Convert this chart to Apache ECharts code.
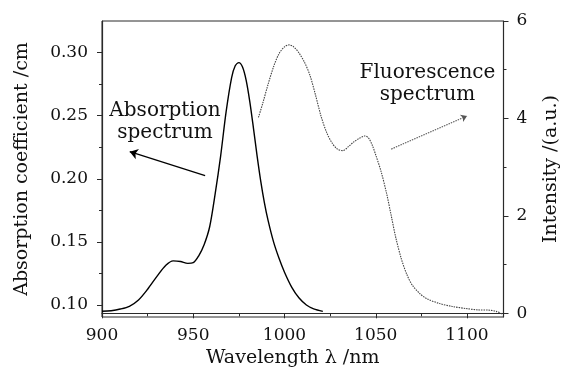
<!DOCTYPE html>
<html>
<head>
<meta charset="utf-8">
<script src="https://cdn.jsdelivr.net/npm/echarts@6/dist/echarts.min.js"></script>
<style>html,body{margin:0;padding:0;background:#fff}#c{width:563px;height:372px}</style>
</head>
<body>
<div id="c"></div>
<script>
// Absorption spectrum: [wavelength nm, absorption coefficient /cm]
var absorption = [[900,0.0950],[905,0.0955],[910,0.0968],[915,0.0990],[920,0.1040],[925,0.1125],[930,0.1225],[935,0.1315],[939,0.1350],[943,0.1345],[947,0.1330],[950,0.1335],[953,0.1390],[956,0.1480],[959,0.1620],[962,0.1880],[965,0.2180],[968,0.2530],[971,0.2800],[973,0.2895],[975,0.2920],[977,0.2885],[979,0.2780],[981,0.2610],[983,0.2400],[985,0.2180],[987,0.1980],[989,0.1810],[991,0.1670],[994,0.1500],[997,0.1370],[1000,0.1260],[1004,0.1140],[1008,0.1055],[1012,0.1000],[1016,0.0970],[1021,0.0950]];
// Fluorescence spectrum: [wavelength nm, intensity a.u.]
var fluorescence = [[985.7,4.02],[988,4.30],[991,4.70],[994,5.06],[997,5.33],[1000,5.47],[1002.5,5.51],[1005,5.47],[1008,5.34],[1011,5.15],[1014,4.88],[1017,4.48],[1020,4.05],[1023,3.72],[1026,3.50],[1029,3.37],[1032,3.34],[1035,3.42],[1038,3.52],[1041,3.59],[1044,3.64],[1046,3.60],[1048,3.46],[1050,3.25],[1053,2.90],[1056,2.45],[1058.5,2.00],[1061,1.55],[1064,1.12],[1067,0.80],[1070,0.58],[1074,0.41],[1078,0.30],[1085,0.20],[1092,0.14],[1100,0.095],[1106,0.07],[1112,0.065],[1116,0.04],[1119.5,-0.02]];
// Tick values
var xTicks = [900,950,1000,1050,1100];
var xMinorTicks = [925,975,1025,1075];
var leftTicks = [0.10,0.15,0.20,0.25,0.30];
var leftMinorTicks = [0.125,0.175,0.225,0.275];
var rightTicks = [0,2,4,6];
var rightMinorTicks = [1,3,5];
// Annotation arrows (data coords)
var absArrow = [[956.5,0.2025],[915.2,0.2215]];
var fluArrow = [[1058.5,3.37],[1100,4.05]];
var absText = 'Absorption\nspectrum';
var fluText = 'Fluorescence\nspectrum';

var FONT = '"DejaVu Serif", serif';
var AX = '#2a2a2a';
var chart = echarts.init(document.getElementById('c'), null, {renderer:'canvas'});
var yRange0 = {min:0.0905, max:0.325};
var yRange1 = {min:-0.076, max:6};
var xRange = {min:900, max:1120};
function hiddenAxis(base){ return Object.assign({axisLine:{show:false}, axisLabel:{show:false}, splitLine:{show:false}}, base); }
chart.setOption({
  animation:false,
  backgroundColor:'#fff',
  grid:{left:102, right:59.5, top:21, bottom:55, containLabel:false, outerBoundsMode:'none', show:true, borderColor:AX, borderWidth:1, backgroundColor:'transparent'},
  xAxis:[{
    type:'value', min:xRange.min, max:xRange.max, position:'bottom',
    name:'Wavelength \u03bb /nm', nameLocation:'middle', nameGap:31,
    nameTextStyle:{fontFamily:FONT, fontSize:19, color:'#111', padding:[0,20,0,0]},
    axisLine:{show:true, lineStyle:{color:AX, width:1.2}},
    axisTick:{show:true, inside:false, length:5, customValues:xTicks, lineStyle:{color:AX}},
    axisLabel:{customValues:xTicks, formatter:function(v){return String(v);}, fontFamily:FONT, fontSize:17, color:'#111', margin:10},
    splitLine:{show:false}
  }, hiddenAxis({
    type:'value', min:xRange.min, max:xRange.max, position:'bottom', offset:0,
    axisTick:{show:true, length:3, customValues:xMinorTicks, lineStyle:{color:AX}}
  })],
  yAxis:[{
    type:'value', min:yRange0.min, max:yRange0.max, position:'left',
    name:'Absorption coefficient /cm', nameLocation:'middle', nameGap:70, nameRotate:90,
    nameTextStyle:{fontFamily:FONT, fontSize:19, color:'#111'},
    axisLine:{show:true, lineStyle:{color:AX, width:1.2}},
    axisTick:{show:true, length:5, customValues:leftTicks, lineStyle:{color:AX}},
    axisLabel:{customValues:leftTicks, formatter:function(v){return v.toFixed(2);}, fontFamily:FONT, fontSize:17, color:'#111', margin:14},
    splitLine:{show:false}
  },{
    type:'value', min:yRange1.min, max:yRange1.max, position:'right',
    name:'Intensity /(a.u.)', nameLocation:'middle', nameGap:38, nameRotate:90,
    nameTextStyle:{fontFamily:FONT, fontSize:19, color:'#111'},
    axisLine:{show:true, lineStyle:{color:AX, width:1.2}},
    axisTick:{show:true, length:5, customValues:rightTicks, lineStyle:{color:AX}},
    axisLabel:{customValues:rightTicks, formatter:function(v){return String(v);}, fontFamily:FONT, fontSize:17, color:'#111', margin:13},
    splitLine:{show:false}
  }, hiddenAxis({
    type:'value', min:yRange0.min, max:yRange0.max, position:'left', offset:0,
    axisTick:{show:true, length:3, customValues:leftMinorTicks, lineStyle:{color:AX}}
  }), hiddenAxis({
    type:'value', min:yRange1.min, max:yRange1.max, position:'right', offset:0,
    axisTick:{show:true, length:3, customValues:rightMinorTicks, lineStyle:{color:AX}}
  })],
  series:[{
    name:'Absorption', type:'line', xAxisIndex:0, yAxisIndex:0, data:absorption,
    smooth:0.3, showSymbol:false, symbol:'none',
    lineStyle:{color:'#000', width:1.4},
    markLine:{silent:true, symbol:['none','arrow'], symbolSize:8,
      lineStyle:{color:'#000', width:1.3, type:'solid'}, label:{show:false},
      data:[[{coord:absArrow[0]},{coord:absArrow[1]}]]}
  },{
    name:'Fluorescence', type:'line', xAxisIndex:0, yAxisIndex:1, data:fluorescence,
    smooth:0.3, showSymbol:false, symbol:'none',
    lineStyle:{color:'#444', width:1.1, type:[1.5,1]},
    markLine:{silent:true, symbol:['none','arrow'], symbolSize:6,
      lineStyle:{color:'#555', width:1.1, type:[1.5,1]}, itemStyle:{color:'#555'}, label:{show:false},
      data:[[{coord:fluArrow[0]},{coord:fluArrow[1]}]]}
  }],
  graphic:[
    {type:'text', x:165, y:122, style:{text:absText, x:0, y:0, align:'center', verticalAlign:'middle', font:'20px '+FONT, lineHeight:22, fill:'#111'}},
    {type:'text', x:427.5, y:84, style:{text:fluText, x:0, y:0, align:'center', verticalAlign:'middle', font:'20px '+FONT, lineHeight:22, fill:'#111'}}
  ]
});
</script>
</body>
</html>
